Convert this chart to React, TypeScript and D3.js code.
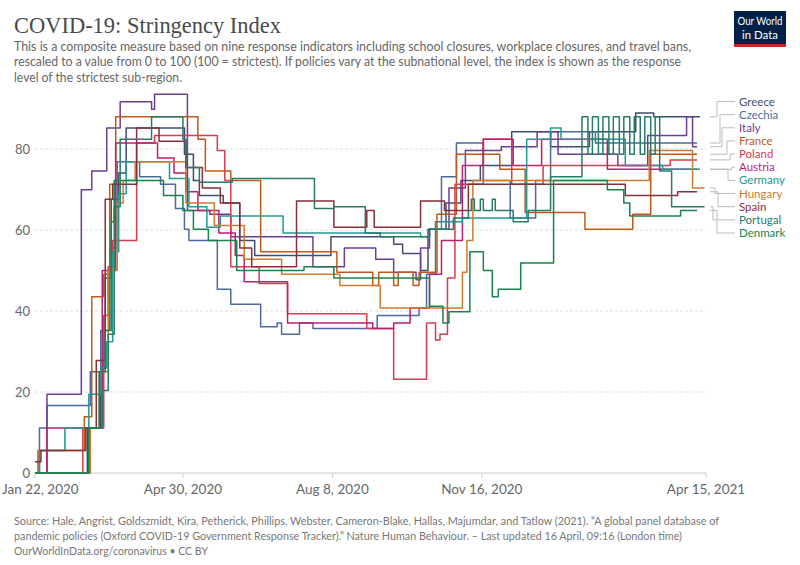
import React from "react";
import * as d3 from "d3";

type Pt = [number, number];

// day offset from Jan 22, 2020 -> stringency value
const START = "2020-01-22";
const END = "2021-04-15";

const countries = ["Greece", "Czechia", "Italy", "France", "Poland", "Austria", "Germany", "Hungary", "Spain", "Portugal", "Denmark"];
const colors = ["#3F4E6E", "#4C6A9C", "#6D3E91", "#C05917", "#D73C50", "#BE1E70", "#1F9A94", "#CF7A30", "#883039", "#287B67", "#18844B"];

const greece: Pt[] = [[0,0],[35,11.11],[44,25.93],[47,48.15],[51,67.59],[56,74.07],[61,85.19],[100,78.7],[106,72.22],[110,68.52],[126,66.67],[137,57.41],[147,53.7],[198,58.33],[240,56.48],[246,54.17],[258,50],[263,60.19],[275,66.67],[285,72.22],[298,75.93],[319,84.26],[345,80.56],[371,84.26],[402,88.89],[414,87.96],[445,87.96]];
const czechia: Pt[] = [[0,0],[3,11.11],[8,16.67],[37,25],[44,35.19],[50,55.56],[55,76.85],[70,73.15],[84,71.3],[94,65.28],[100,60.19],[103,57.41],[122,45.37],[131,41.67],[151,36.11],[162,37.04],[165,34.26],[177,37.04],[186,35.65],[229,38.89],[257,40.74],[262,49.07],[268,62.04],[272,73.15],[282,81.48],[300,72.22],[318,62.96],[335,72.22],[345,84.26],[375,81.48],[443,81.48]];
const italy: Pt[] = [[0,0],[8,19.44],[31,69.91],[38,74.54],[48,85.19],[57,91.67],[78,89.81],[80,93.52],[102,64.81],[117,63.89],[131,58.33],[186,50.93],[207,55.56],[228,52.78],[240,49.54],[255,47.69],[258,55.56],[264,60.19],[277,70.37],[288,79.63],[312,80.56],[336,84.26],[350,78.7],[390,75.93],[410,83.33],[436,87.96],[440,80.56],[443,80.56]];
const france: Pt[] = [[0,0],[2,5.56],[33,13.89],[38,43.52],[46,49.07],[50,71.3],[54,87.96],[109,82.41],[114,74.54],[131,72.22],[151,54.63],[202,49.54],[226,46.3],[230,49.54],[240,46.3],[243,49.54],[253,46.3],[257,49.54],[269,63.89],[282,78.7],[311,75],[328,64.35],[368,60.19],[400,63.89],[412,78.7],[443,78.7]];
const poland: Pt[] = [[0,0],[32,11.11],[46,38.89],[49,50.93],[52,57.41],[68,81.48],[80,83.33],[122,79.63],[127,72.22],[131,50.93],[150,46.76],[169,39.35],[222,35.65],[240,23.15],[262,37.04],[268,32.87],[271,34.26],[276,48.15],[281,71.3],[300,82.41],[319,71.3],[340,75.93],[425,77.31],[443,77.31]];
const austria: Pt[] = [[0,0],[8,11.11],[45,50],[54,81.48],[82,77.78],[93,74.07],[101,69.44],[109,64.81],[123,59.26],[134,53.7],[140,47.22],[169,37.04],[226,35.65],[240,37.04],[251,40.74],[264,49.07],[272,57.41],[286,75.93],[300,82.41],[320,75.93],[339,82.41],[383,75],[443,75]];
const germany: Pt[] = [[0,0],[3,5.56],[20,11.11],[36,19.44],[44,25.93],[48,32.41],[52,54.63],[56,68.98],[61,76.85],[90,72.69],[103,65.74],[115,60.65],[124,63.43],[166,59.26],[230,59.26],[258,58.33],[264,60.19],[272,62.04],[286,62.96],[329,82.41],[345,85.19],[352,82.41],[395,75.93],[420,75],[445,75]];
const hungary: Pt[] = [[0,0],[37,11.11],[43,25],[49,50],[55,66.67],[59,72.22],[67,76.85],[101,66.67],[120,61.11],[140,52.78],[165,49.07],[204,46.3],[231,40.74],[286,49.54],[289,57.41],[293,72.22],[411,79.63],[440,70.37],[448,70.37]];
const spain: Pt[] = [[0,2.78],[4,5.56],[34,11.11],[41,27.78],[47,67.59],[52,71.3],[68,85.19],[83,81.94],[101,75.46],[112,70.37],[124,66.67],[137,55.56],[145,50.93],[175,67.13],[200,60.65],[222,64.81],[227,60.65],[258,67.13],[274,64.81],[290,71.3],[394,71.3],[395,68.52],[430,69.44],[443,69.44]];
const portugal: Pt[] = [[0,0],[36,11.11],[45,20.37],[49,34.26],[53,65.74],[57,82.41],[78,87.96],[99,82.41],[101,75.46],[110,71.76],[132,72.69],[187,65.28],[200,65.74],[221,59.26],[231,58.33],[264,60.19],[280,62.96],[290,64.81],[292,67.59],[294,64.81],[298,67.59],[300,64.81],[306,67.59],[308,64.81],[320,62.04],[330,64.81],[345,73.15],[366,87.96],[370,78.7],[373,87.96],[377,78.7],[380,87.96],[384,78.7],[387,87.96],[391,78.7],[394,87.96],[398,78.7],[401,87.96],[405,78.7],[408,87.96],[412,78.7],[415,87.96],[418,74.54],[426,65.74],[448,65.74]];
const denmark: Pt[] = [[0,0],[36,11.11],[43,25],[47,35.19],[51,62.04],[53,72.22],[86,68.52],[99,64.81],[106,60.19],[116,57.41],[135,50],[180,50.93],[200,48.15],[264,41.2],[273,37.04],[277,39.81],[291,54.63],[300,50],[306,43.52],[310,45.37],[325,51.85],[347,72.22],[383,69.91],[394,66.67],[398,63.43],[432,64.81],[443,64.81]];

const seriesList: Pt[][] = [greece, czechia, italy, france, poland, austria, germany, hungary, spain, portugal, denmark];

const yTicks = [0, 20, 40, 60, 80];
const xTickDates = ["2020-01-22", "2020-04-30", "2020-08-08", "2020-11-16", "2021-04-15"];
const xTickLabels = ["Jan 22, 2020", "Apr 30, 2020", "Aug 8, 2020", "Nov 16, 2020", "Apr 15, 2021"];

const titleText = "COVID-19: Stringency Index";
const subtitleLines = [
  "This is a composite measure based on nine response indicators including school closures, workplace closures, and travel bans,",
  "rescaled to a value from 0 to 100 (100 = strictest). If policies vary at the subnational level, the index is shown as the response",
  "level of the strictest sub-region.",
];
const footerLines = [
  "Source: Hale, Angrist, Goldszmidt, Kira, Petherick, Phillips, Webster, Cameron-Blake, Hallas, Majumdar, and Tatlow (2021). \u201CA global panel database of",
  "pandemic policies (Oxford COVID-19 Government Response Tracker).\u201D Nature Human Behaviour. \u2013 Last updated 16 April, 09:16 (London time)",
  "OurWorldInData.org/coronavirus \u2022 CC BY",
];

export default function App() {
  const parse = d3.utcParse("%Y-%m-%d");
  const start = parse(START)!;
  const end = parse(END)!;
  const x = d3.scaleUtc().domain([start, end]).range([35, 706]);
  const y = d3.scaleLinear().domain([0, 100]).range([473, 68]);
  const line = d3
    .line<Pt>()
    .x((p) => x(d3.utcDay.offset(start, p[0])))
    .y((p) => y(p[1]))
    .curve(d3.curveStepAfter);

  const sans = "Lato, 'Liberation Sans', Arial, sans-serif";
  const subWidths = [677, 667, 168];
  const footWidths = [705, 668, 194];
  const legendY0 = 105.5;
  const legendStep = 13.15;
  const elbows = [717, 720, 722, 727, 730, 732, 728, 715, 718, 713, 717];

  return (
    <svg width={800} height={565} style={{ position: "absolute", left: 0, top: 0, background: "#fff" }} fontFamily={sans}>
      <rect x={0} y={0} width={800} height={565} fill="#fff" />
      <text x={14} y={33} fontFamily="'Liberation Serif', 'DejaVu Serif', serif" fontSize={24} fill="#4a4a4a" textLength={267} lengthAdjust="spacingAndGlyphs">
        {titleText}
      </text>
      {subtitleLines.map((t, i) => (
        <text key={i} x={14} y={51 + i * 15.3} fontSize={13} fill="#666" textLength={subWidths[i]} lengthAdjust="spacingAndGlyphs">
          {t}
        </text>
      ))}
      {/* logo */}
      <g>
        <rect x={734} y={11} width={52} height={33} fill="#002147" />
        <rect x={734} y={44} width={52} height={3} fill="#CE261E" />
        <text x={760} y={25} fontSize={11.5} fill="#fff" textAnchor="middle" textLength={45} lengthAdjust="spacingAndGlyphs">Our World</text>
        <text x={760} y={39} fontSize={11.5} fill="#fff" textAnchor="middle" textLength={36} lengthAdjust="spacingAndGlyphs">in Data</text>
      </g>
      {/* grid */}
      {yTicks.map((t) => (
        <g key={t}>
          {t > 0 && <line x1={35} x2={706} y1={y(t)} y2={y(t)} stroke="#ddd" strokeDasharray="3,2" />}
          <text x={30} y={y(t) + 4.5} textAnchor="end" fontSize={13} fill="#666">{t}</text>
        </g>
      ))}
      <line x1={35} x2={706} y1={y(0)} y2={y(0)} stroke="#ccc" />
      {xTickDates.map((d, i) => {
        const xx = x(parse(d)!);
        const anchor = i === 0 ? "start" : "middle";
        const tx = i === 0 ? 2 : xx;
        return (
          <g key={d}>
            <line x1={xx} x2={xx} y1={473} y2={478} stroke="#ccc" />
            <text x={tx} y={494} textAnchor={anchor} fontSize={13.5} fill="#666">{xTickLabels[i]}</text>
          </g>
        );
      })}
      {/* lines */}
      {seriesList.map((s, i) => (
        <path key={countries[i]} d={line(s) || ""} fill="none" stroke={colors[i]} strokeWidth={1.5} strokeLinejoin="round" />
      ))}
      {/* legend */}
      {seriesList.map((s, i) => {
        const last = s[s.length - 1];
        const ly = y(last[1]);
        const ty = legendY0 + i * legendStep;
        const ex = elbows[i];
        return (
          <g key={"lg" + i}>
            <path d={`M710,${ly}H${ex}V${ty - 4}H735`} fill="none" stroke="#bbb" strokeWidth={1} />
            <text x={739} y={ty} fontSize={11.5} fill={colors[i]}>{countries[i]}</text>
          </g>
        );
      })}
      {footerLines.map((t, i) => (
        <text key={"f" + i} x={14} y={525 + i * 15} fontSize={11.5} fill="#777" textLength={footWidths[i]} lengthAdjust="spacingAndGlyphs">
          {t}
        </text>
      ))}
    </svg>
  );
}
